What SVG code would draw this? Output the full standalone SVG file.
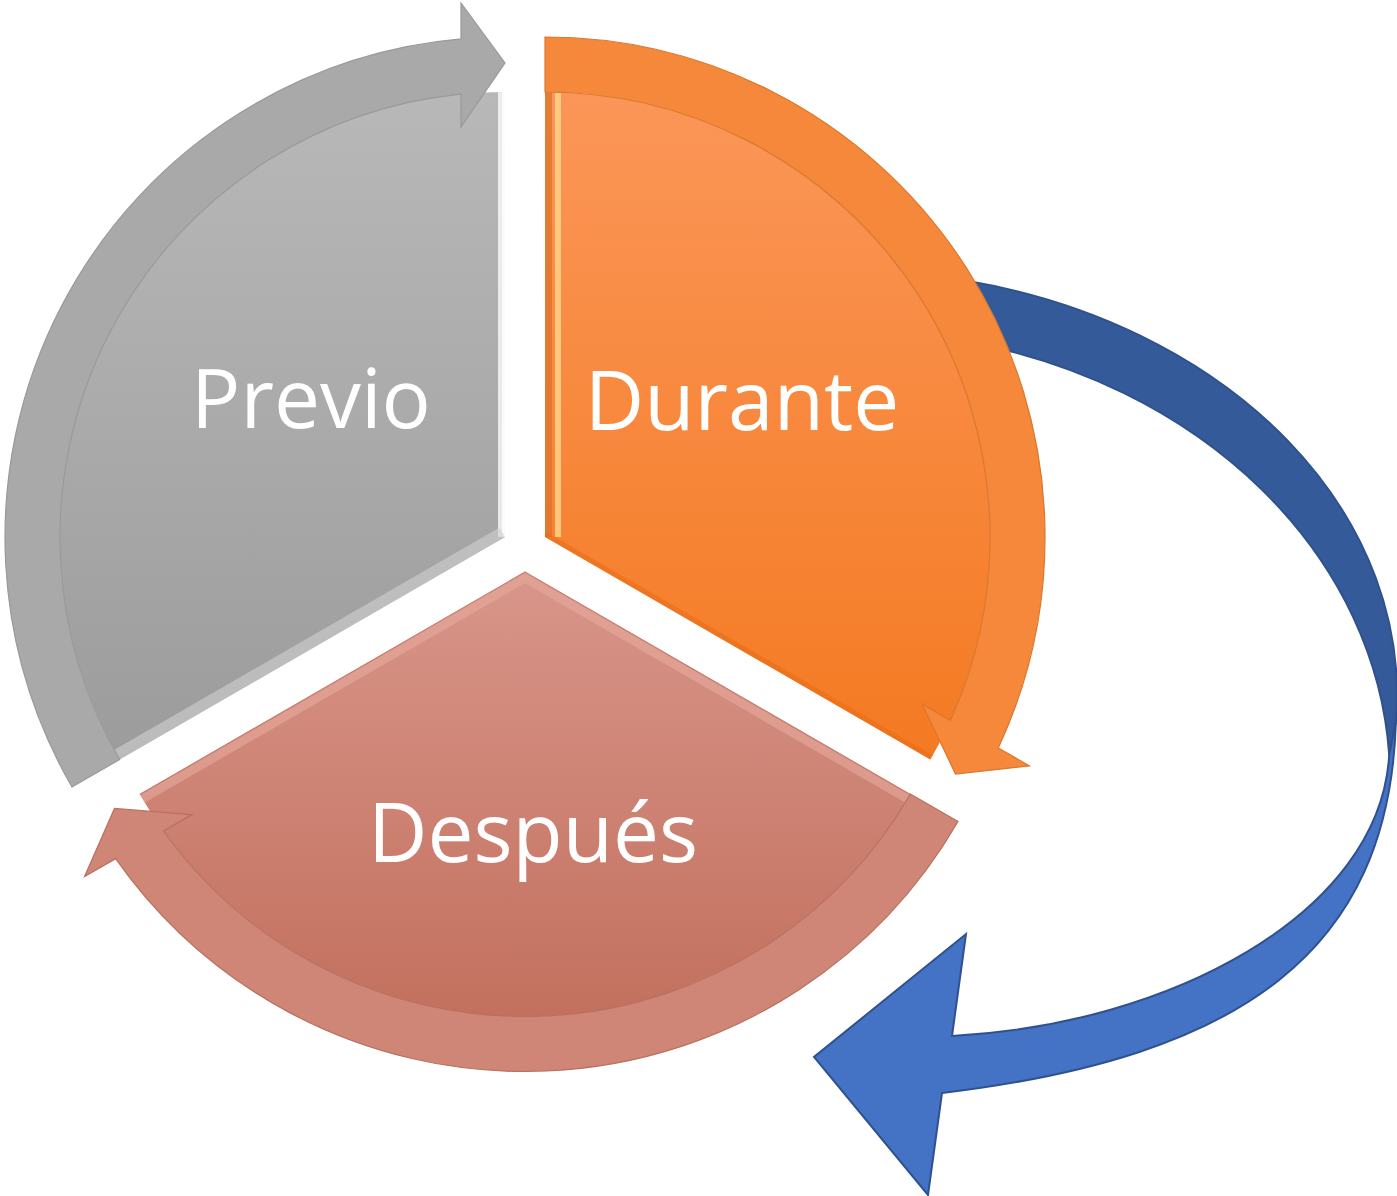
<svg xmlns="http://www.w3.org/2000/svg" width="1397" height="1196" viewBox="0 0 1397 1196">
<style>
.lbl{font-family:"Open Sans","Noto Sans","Liberation Sans",sans-serif;font-size:82px;fill:#ffffff;text-anchor:middle}
.band{stroke-width:1.2;stroke-linejoin:miter}
.blue{stroke:#2f528f;stroke-width:2;stroke-linejoin:miter}
</style>
<defs>
<linearGradient id="gP" x1="0" y1="0" x2="0" y2="1"><stop offset="0" stop-color="#b8b8b8"/><stop offset="1" stop-color="#9c9c9c"/></linearGradient>
<linearGradient id="gD" x1="0" y1="0" x2="0" y2="1"><stop offset="0" stop-color="#fb9658"/><stop offset="1" stop-color="#f47a22"/></linearGradient>
<linearGradient id="gE" x1="0" y1="0" x2="0" y2="1"><stop offset="0" stop-color="#d8968a"/><stop offset="1" stop-color="#c3705e"/></linearGradient>
<clipPath id="cP"><path d="M505,537 L119.62,759.5 A445,445 0 0 1 505,92 Z"/></clipPath>
<clipPath id="cD"><path d="M545,537 L545,92 A445,445 0 0 1 930.38,759.5 Z"/></clipPath>
<clipPath id="cE"><path d="M525,571.5 L910.38,794 A445,445 0 0 1 139.62,794 Z"/></clipPath>
</defs>
<rect width="1397" height="1196" fill="#ffffff"/>

<g id="connectors">
<path id="back-band" class="blue" fill="#345a99" d="M968,281 A547,424 0 0 1 1395.9,722 L1389.2,755 A540,449 0 0 0 966,341.5 Z"/>
<path id="front-band" class="blue" fill="#4472c4" d="M1395.9,722 C1389,952 1242,1057 942,1093 L928,1195 L814,1057 L966,934 L952,1036 C1167,1025 1380,915 1389.2,755 Z"/>
</g>

<g id="previo">
<path d="M505,537 L119.62,759.5 A445,445 0 0 1 505,92 Z" fill="url(#gP)"/>
<g clip-path="url(#cP)">
<path d="M505,92 L505,537" stroke="#ffffff" stroke-width="14" opacity="0.75" fill="none"/>
<path d="M505,92 L505,537" stroke="#ffffff" stroke-width="6" opacity="0.8" fill="none"/>
<path d="M505,537 L119.62,759.5" stroke="#d0d0d0" stroke-width="22" opacity="0.6" fill="none"/>
</g>
<path class="band" d="M71.99,787 A500,500 0 0 1 461,38.94 L461,3 L505,63 L461,127 L461,94.18 A445,445 0 0 0 119.62,759.5 Z" fill="#a9a9a9" stroke="#999999"/>
<text class="lbl" x="311" y="428">Previo</text>
</g>

<g id="durante">
<path d="M545,537 L545,92 A445,445 0 0 1 930.38,759.5 Z" fill="url(#gD)"/>
<g clip-path="url(#cD)">
<path d="M548,92 L548,537" stroke="#e0742c" stroke-width="8" opacity="0.8" fill="none"/>
<path d="M558,92 L558,537" stroke="#ffd488" stroke-width="6" opacity="0.85" fill="none"/>
<path d="M545,537 L930.38,759.5" stroke="#e56a14" stroke-width="10" opacity="0.5" fill="none"/>
</g>
<path class="band" d="M545,37 A500,500 0 0 1 998.33,747.93 L1029.46,765.9 L955.49,774 L922.07,703.9 L950.49,720.31 A445,445 0 0 0 545,92 Z" fill="#f5883a" stroke="#d9782e"/>
<text class="lbl" x="742" y="430">Durante</text>
</g>

<g id="despues">
<path d="M525,571.5 L910.38,794 A445,445 0 0 1 139.62,794 Z" fill="url(#gE)"/>
<g clip-path="url(#cE)">
<path d="M139.62,794 L525,571.5 L910.38,794" stroke="#e6aa9c" stroke-width="20" opacity="0.6" fill="none"/>
<path d="M139.62,794 L525,571.5 L910.38,794" stroke="#b86a5a" stroke-width="2.5" opacity="0.6" fill="none"/>
</g>
<path class="band" d="M958.01,821.5 A500,500 0 0 1 115.67,858.63 L84.54,876.6 L114.51,808.5 L191.93,814.6 L163.51,831.01 A445,445 0 0 0 910.38,794 Z" fill="#cf8676" stroke="#b8705f"/>
<text class="lbl" x="533" y="862">Después</text>
</g>
</svg>
